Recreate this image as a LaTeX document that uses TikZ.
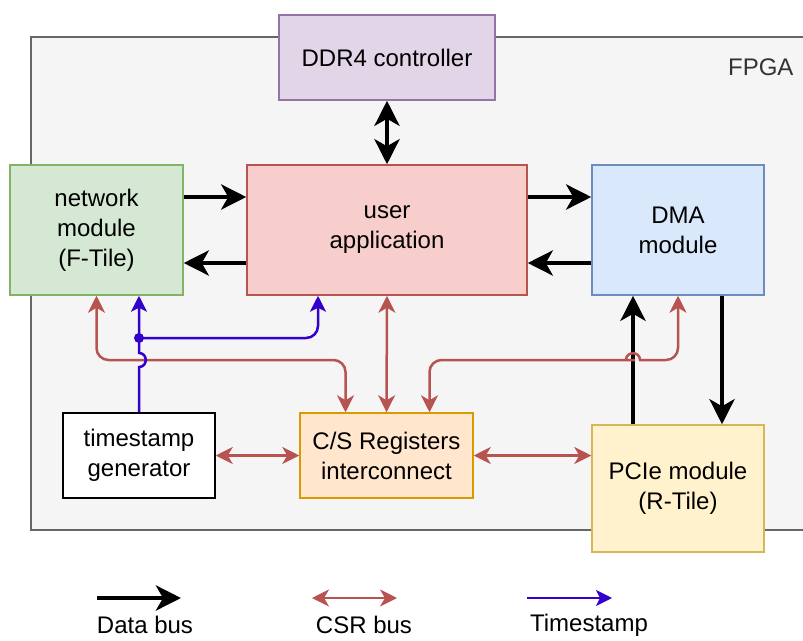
\documentclass[tikz,border=0pt]{standalone}
\usepackage{fontspec}
\setmainfont{Liberation Sans}
\usetikzlibrary{arrows.meta,calc}
\definecolor{fpgafill}{HTML}{F5F5F5}
\definecolor{fpgaline}{HTML}{666666}
\definecolor{ddrfill}{HTML}{E1D5E7}
\definecolor{ddrline}{HTML}{9673A6}
\definecolor{netfill}{HTML}{D5E8D4}
\definecolor{netline}{HTML}{82B366}
\definecolor{appfill}{HTML}{F8CECC}
\definecolor{appline}{HTML}{B85450}
\definecolor{dmafill}{HTML}{DAE8FC}
\definecolor{dmaline}{HTML}{6C8EBF}
\definecolor{csrfill}{HTML}{FFE6CC}
\definecolor{csrline}{HTML}{D79B00}
\definecolor{pcifill}{HTML}{FFF2CC}
\definecolor{pciline}{HTML}{D6B656}
\definecolor{csrred}{HTML}{B85450}
\definecolor{tsblue}{HTML}{3300CC}

\begin{document}
\begin{tikzpicture}[x=1pt,y=-1pt,
  font=\fontsize{24}{30}\selectfont,
  bx/.style={draw,line width=1.5pt,align=center,inner sep=0pt},
  ddrb/.style={bx,draw=ddrline,fill=ddrfill,minimum width=216pt,minimum height=85pt},
  netb/.style={bx,draw=netline,fill=netfill,minimum width=173pt,minimum height=130pt},
  appb/.style={bx,draw=appline,fill=appfill,minimum width=280pt,minimum height=130pt},
  dmab/.style={bx,draw=dmaline,fill=dmafill,minimum width=172pt,minimum height=130pt},
  tsgb/.style={bx,draw=black,fill=white,minimum width=152pt,minimum height=85pt},
  csrb/.style={bx,draw=csrline,fill=csrfill,minimum width=173pt,minimum height=85pt},
  pcib/.style={bx,draw=pciline,fill=pcifill,minimum width=172pt,minimum height=127pt},
  dbus/.style={line width=4.5pt,black,-{Stealth[length=25pt,width=25pt,inset=7pt]}},
  ddbus/.style={line width=4.5pt,black,{Stealth[length=25pt,width=25pt,inset=7pt]}-{Stealth[length=25pt,width=25pt,inset=7pt]}},
  cbus/.style={line width=2.5pt,csrred,{Stealth[length=17pt,width=17pt,inset=5pt]}-{Stealth[length=17pt,width=17pt,inset=5pt]}},
  tbus/.style={line width=2.5pt,tsblue,-{Stealth[length=16pt,width=16pt,inset=4pt]}},
  ]
  \useasboundingbox (0,0) rectangle (803,640);
  \draw[draw=fpgaline,fill=fpgafill,line width=1.5pt] (31,37) rectangle (808,530);
  \node[anchor=east,text=black!80] (fpga) at (797,67) {FPGA};

  \node[ddrb] (ddr)  at (387,57.5)  {DDR4 controller};
  \node[netb] (net)  at (96.5,230)  {network\\module\\(F-Tile)};
  \node[appb] (app)  at (387,230)   {user\\application};
  \node[dmab] (dma)  at (678,230)   {DMA\\module};
  \node[tsgb] (tsg)  at (139,455.5) {timestamp\\generator};
  \node[csrb] (csr)  at (386.5,455.5) {C/S Registers\\interconnect};
  \node[pcib] (pcie) at (678,488.5) {PCIe module\\(R-Tile)};
  \coordinate (csrlane) at (0,360);
  \coordinate (tslane)  at (0,338);
  \coordinate (pciup)   at ([xshift=-45pt]pcie.north);

  \draw[ddbus] (ddr.south) -- (app.north);
  \draw[dbus] ([yshift=33pt]net.east) -- ([yshift=33pt]app.west);
  \draw[dbus] ([yshift=-33pt]app.west) -- ([yshift=-33pt]net.east);
  \draw[dbus] ([yshift=33pt]app.east) -- ([yshift=33pt]dma.west);
  \draw[dbus] ([yshift=-33pt]dma.west) -- ([yshift=-33pt]app.east);
  \draw[dbus] (pciup) -- (pciup |- dma.south);
  \draw[dbus] ([xshift=44pt]dma.south) -- ([xshift=44pt]pcie.north);

  \draw[cbus] (csr.west) -- (tsg.east);
  \draw[cbus] (csr.east) -- (csr.east -| pcie.west);
  \draw[cbus] (csr.north) -- (app.south);
  \draw[cbus,rounded corners=12pt] ([xshift=-41pt]csr.north) |- (csrlane -| net.south) -- (net.south);
  \draw[cbus] ([xshift=43pt]csr.north) [rounded corners=12pt] |- ([xshift=-10pt]pciup |- csrlane)
    [sharp corners] -- ([xshift=-7pt]pciup |- csrlane)
    .. controls +(0,-9) and +(0,-9) .. ([xshift=7pt]pciup |- csrlane)
    -- ([xshift=10pt]pciup |- csrlane)
    [rounded corners=12pt] -| (dma.south);

  \draw[tbus] (tsg.north) -- ([yshift=-7pt]tsg.north |- csrlane)
    .. controls +(9,0) and +(9,0) .. ([yshift=7pt]tsg.north |- csrlane)
    -- (tsg.north |- net.south);
  \fill[tsblue] (tsg.north |- tslane) circle (5pt);
  \draw[tbus,rounded corners=12pt] (tsg.north |- tslane) -| ([xshift=-69pt]app.south);

  \node (lgdata) at (145,625) {Data bus};
  \node (lgcsr)  at (364,625) {CSR bus};
  \node (lgts)   at (589,625) {Timestamp};
  \draw[dbus] ($(lgdata)+(-48,-27)$) -- ($(lgdata)+(36,-27)$);
  \draw[cbus] ($(lgcsr)+(-52,-27)$) -- ($(lgcsr)+(33,-27)$);
  \draw[tbus] ($(lgts)+(-62,-27)$) -- ($(lgts)+(23,-27)$);
\end{tikzpicture}
\end{document}
